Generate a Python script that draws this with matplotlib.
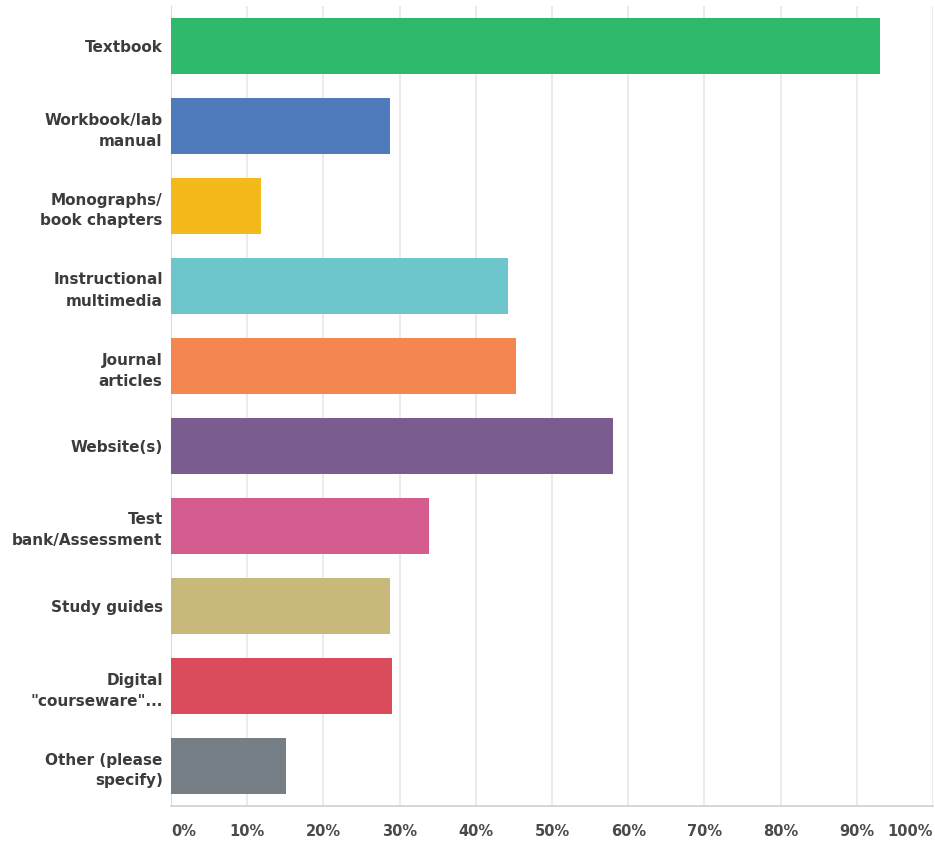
import matplotlib
matplotlib.use("Agg")
import matplotlib.pyplot as plt

categories = [
    "Textbook",
    "Workbook/lab\nmanual",
    "Monographs/\nbook chapters",
    "Instructional\nmultimedia",
    "Journal\narticles",
    "Website(s)",
    "Test\nbank/Assessment",
    "Study guides",
    "Digital\n\"courseware\"...",
    "Other (please\nspecify)",
]
values = [93.0, 28.7, 11.8, 44.2, 45.3, 58.0, 33.8, 28.7, 29.0, 15.1]
colors = ["#2fb96c", "#4f7bbd", "#f4ba1c", "#6dc6cc", "#f4874f",
          "#7b5c8e", "#d45c8f", "#c8b879", "#da4b5b", "#767e86"]
tick_values = list(range(0, 101, 10))
tick_labels = [f"{t}%" for t in tick_values]

plt.rcParams["font.family"] = ["DejaVu Sans"]

fig = plt.figure(figsize=(9.35, 8.42), dpi=100)
ax = fig.add_axes([171 / 935, 36 / 842, 762 / 935, 800 / 842])

y = list(range(len(categories)))
ax.barh(y, values, height=0.71, color=colors, zorder=3)

ax.set_xlim(0, 100)
ax.set_ylim(len(categories) - 0.5, -0.5)

ax.set_xticks(tick_values)
ax.set_xticklabels(tick_labels)
ax.set_yticks(y)
ax.set_yticklabels(categories, fontsize=11, fontweight="bold",
                   color="#3c3c3c", linespacing=1.5)
for lbl in ax.get_xticklabels():
    lbl.set_fontsize(10.5)
    lbl.set_fontweight("bold")
    lbl.set_color("#4a4a4a")
xl = ax.get_xticklabels()
xl[0].set_horizontalalignment("left")
xl[-1].set_horizontalalignment("right")

ax.tick_params(axis="both", length=0)
ax.tick_params(axis="y", pad=6)
ax.tick_params(axis="x", pad=13)

ax.grid(axis="x", color="#e8e8e8", linewidth=1.2, zorder=0)
for side in ("top", "right"):
    ax.spines[side].set_visible(False)
ax.spines["left"].set_color("#dcdcdc")
ax.spines["bottom"].set_color("#cfcfcf")
ax.spines["bottom"].set_linewidth(1.2)

fig.savefig("out.png", dpi=100)
